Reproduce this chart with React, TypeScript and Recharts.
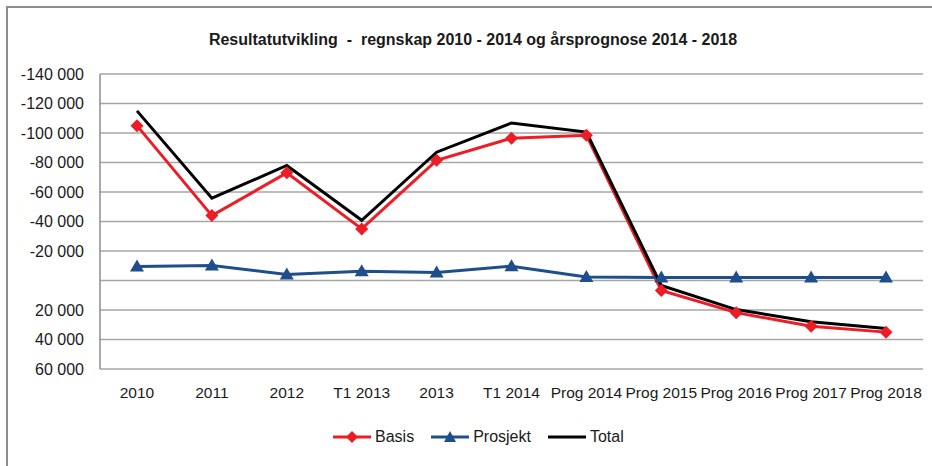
import { CartesianGrid, Line, LineChart, XAxis, YAxis } from "recharts";

const categories = [
  "2010",
  "2011",
  "2012",
  "T1 2013",
  "2013",
  "T1 2014",
  "Prog 2014",
  "Prog 2015",
  "Prog 2016",
  "Prog 2017",
  "Prog 2018",
];

const basis = [-105000, -44000, -73000, -35000, -81500, -96500, -98500, 6800, 21800, 31000, 35000];
const prosjekt = [-9500, -10200, -4000, -6200, -5400, -9700, -2300, -2000, -2000, -2000, -2000];
const total = [-115000, -55800, -78000, -40800, -87000, -106800, -100600, 3400, 19700, 27900, 32600];

const yTicks = [-140000, -120000, -100000, -80000, -60000, -40000, -20000, 0, 20000, 40000, 60000];

const COLORS = {
  basis: "#ee1c24",
  prosjekt: "#1f4e8c",
  total: "#000000",
  grid: "#a6a6a6",
  text: "#1a1a1a",
};

const FONT = "'Liberation Sans', Arial, sans-serif";

const data = categories.map((c, i) => ({
  label: c,
  basis: basis[i],
  prosjekt: prosjekt[i],
  total: total[i],
}));

function fmtY(v: number): string {
  if (v === 0) return "";
  const s = Math.abs(v).toString().replace(/\B(?=(\d{3})+(?!\d))/g, " ");
  return (v < 0 ? "-" : "") + s;
}

function Diamond(props: any) {
  const { cx, cy, index } = props;
  if (cx == null || cy == null) return null;
  const r = 6.5;
  return (
    <path
      key={`d-${index}`}
      d={`M${cx},${cy - r}L${cx + r},${cy}L${cx},${cy + r}L${cx - r},${cy}Z`}
      fill={COLORS.basis}
    />
  );
}

function Triangle(props: any) {
  const { cx, cy, index } = props;
  if (cx == null || cy == null) return null;
  return (
    <path
      key={`t-${index}`}
      d={`M${cx},${cy - 7}L${cx + 7},${cy + 5}L${cx - 7},${cy + 5}Z`}
      fill={COLORS.prosjekt}
    />
  );
}

function LegendItem({ label, color, marker }: { label: string; color: string; marker?: "diamond" | "triangle" }) {
  return (
    <div style={{ display: "flex", alignItems: "center", marginRight: 16 }}>
      <svg width={40} height={16}>
        <line x1={1} y1={8} x2={39} y2={8} stroke={color} strokeWidth={3} />
        {marker === "diamond" && <path d="M20,2L26,8L20,14L14,8Z" fill={color} />}
        {marker === "triangle" && <path d="M20,2L26,13L14,13Z" fill={color} />}
      </svg>
      <span style={{ marginLeft: 3 }}>{label}</span>
    </div>
  );
}

export default function App() {
  return (
    <div
      style={{
        position: "relative",
        width: 932,
        height: 466,
        background: "#fff",
        fontFamily: FONT,
        color: COLORS.text,
      }}
    >
      <style>{"body{margin:0}"}</style>
      <div
        style={{
          position: "absolute",
          top: 31,
          left: 0,
          width: 946,
          textAlign: "center",
          fontWeight: "bold",
          fontSize: 16,
          whiteSpace: "pre",
        }}
      >
        {"Resultatutvikling  -  regnskap 2010 - 2014 og årsprognose 2014 - 2018"}
      </div>
      <LineChart
        width={932}
        height={466}
        data={data}
        margin={{ top: 74, right: 9, left: 0, bottom: 67 }}
        style={{ position: "absolute", left: 0, top: 0 }}
      >
        <CartesianGrid vertical={false} stroke={COLORS.grid} strokeWidth={1.5} />
        <XAxis
          dataKey="label"
          interval={0}
          padding={{ left: 37, right: 37 }}
          axisLine={false}
          tickLine={false}
          tickSize={0}
          tickMargin={18}
          tick={{ fontSize: 15.5, fill: COLORS.text, fontFamily: FONT }}
        />
        <YAxis
          reversed
          domain={[-140000, 60000]}
          ticks={yTicks}
          tickFormatter={fmtY}
          width={100}
          axisLine={{ stroke: "#8c8c8c", strokeWidth: 1.5 }}
          tickLine={false}
          tickSize={0}
          tickMargin={16}
          tick={{ fontSize: 16, fill: COLORS.text, fontFamily: FONT }}
        />
        <Line
          dataKey="basis"
          name="Basis"
          stroke={COLORS.basis}
          strokeWidth={3}
          dot={Diamond}
          activeDot={false}
          isAnimationActive={false}
        />
        <Line
          dataKey="prosjekt"
          name="Prosjekt"
          stroke={COLORS.prosjekt}
          strokeWidth={3}
          dot={Triangle}
          activeDot={false}
          isAnimationActive={false}
        />
        <Line
          dataKey="total"
          name="Total"
          stroke={COLORS.total}
          strokeWidth={3}
          dot={false}
          activeDot={false}
          isAnimationActive={false}
        />
      </LineChart>
      <div
        style={{
          position: "absolute",
          top: 428,
          left: 332,
          display: "flex",
          fontSize: 16,
        }}
      >
        <LegendItem label="Basis" color={COLORS.basis} marker="diamond" />
        <LegendItem label="Prosjekt" color={COLORS.prosjekt} marker="triangle" />
        <LegendItem label="Total" color={COLORS.total} />
      </div>
      <svg
        width={932}
        height={466}
        style={{ position: "absolute", left: 0, top: 0, pointerEvents: "none" }}
      >
        <path d="M7,466V7H932" fill="none" stroke="#8c8c8c" strokeWidth={2} />
      </svg>
    </div>
  );
}
